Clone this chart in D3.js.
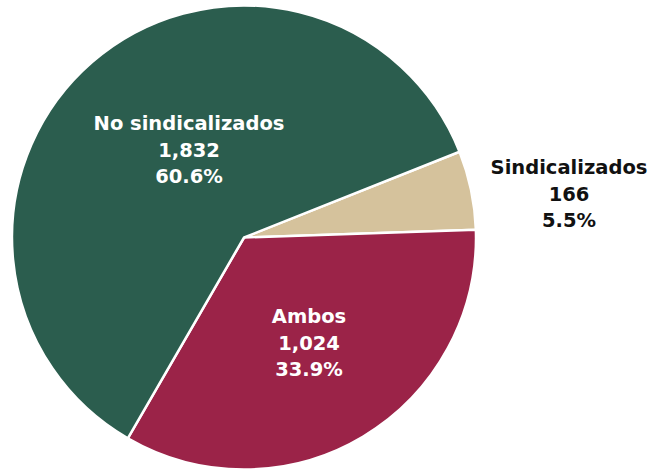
<!DOCTYPE html>
<html>
<head>
<meta charset="utf-8">
<script src="https://cdn.jsdelivr.net/npm/d3@7"></script>
<style>
  html, body { margin: 0; padding: 0; background: #ffffff; }
  svg { display: block; }
  text { font-family: "DejaVu Sans", "Open Sans", sans-serif; font-weight: 700; }
</style>
</head>
<body>
<svg id="chart" width="654" height="470"></svg>
<script>
// Workers by union status
const categories = ["Sindicalizados", "Ambos", "No sindicalizados"];
const counts = [166, 1024, 1832];
const percents = ["5.5%", "33.9%", "60.6%"];
const colors = ["#d5c29c", "#9b2348", "#2b5d4e"];

const width = 654, height = 470;
const cx = 244, cy = 237.5, radius = 232;

const svg = d3.select("#chart");
const g = svg.append("g").attr("transform", `translate(${cx},${cy})`);

const data = categories.map((c, i) => ({ name: c, value: counts[i], pct: percents[i], color: colors[i] }));

const pie = d3.pie()
  .value(d => d.value)
  .sort(null)
  .startAngle(68.3 * Math.PI / 180)
  .endAngle(68.3 * Math.PI / 180 + 2 * Math.PI);

const arc = d3.arc().innerRadius(0).outerRadius(radius);
const arcs = pie(data);

g.selectAll("path.slice")
  .data(arcs)
  .join("path")
  .attr("class", "slice")
  .attr("d", arc)
  .attr("fill", d => d.data.color)
  .attr("stroke", "#ffffff")
  .attr("stroke-width", 2.5)
  .attr("stroke-linejoin", "miter");

// Label anchors (relative to pie center) and text colour per slice
const labelPos = {
  "Sindicalizados": { x: 325, y: -44, fill: "#111111" },
  "Ambos": { x: 65, y: 105, fill: "#ffffff" },
  "No sindicalizados": { x: -55, y: -88, fill: "#ffffff" }
};

const fmt = d3.format(",");
const lineH = 26.5;

arcs.forEach(a => {
  const p = labelPos[a.data.name];
  const t = g.append("text")
    .attr("text-anchor", "middle")
    .attr("fill", p.fill)
    .attr("font-size", 19.5);
  const lines = [a.data.name, fmt(a.data.value), a.data.pct];
  lines.forEach((s, i) => {
    t.append("tspan")
      .attr("x", p.x)
      .attr("y", p.y + (i - 1) * lineH)
      .attr("dy", "0.36em")
      .text(s);
  });
});
</script>
</body>
</html>
